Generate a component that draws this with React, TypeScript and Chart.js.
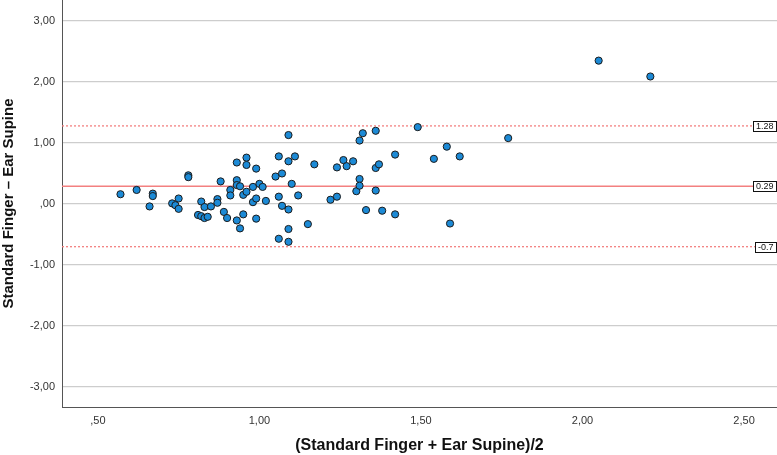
import React, { useEffect, useRef } from "react";
import { Chart, registerables } from "chart.js";

Chart.register(...registerables);

// Bland-Altman data: average of the two methods (x) and difference (y)
const averages: number[] = [
  0.57, 0.62, 0.67, 0.67, 0.66, 0.73, 0.74, 0.75, 0.75, 0.78,
  0.78, 0.82, 0.81, 0.82, 0.83, 0.84, 0.83, 0.85, 0.87, 0.87,
  0.88, 0.89, 0.90, 0.91, 0.91, 0.93, 0.96, 0.96, 0.93, 0.93,
  0.94, 0.95, 0.96, 0.95, 0.93, 0.94, 0.98, 0.98, 0.99, 1.00,
  0.99, 0.99, 1.01, 1.02, 1.05, 1.06, 1.07, 1.09, 1.09, 1.11,
  1.10, 1.06, 1.07, 1.09, 1.12, 1.06, 1.09, 1.09, 1.15, 1.17,
  1.22, 1.24, 1.24, 1.26, 1.27, 1.29, 1.31, 1.30, 1.31, 1.31,
  1.32, 1.33, 1.36, 1.36, 1.37, 1.36, 1.38, 1.42, 1.42, 2.05,
  2.21, 1.49, 1.77, 1.54, 1.58, 1.62, 1.59,
];
const differences: number[] = [
  0.16, 0.23, 0.17, 0.13, -0.04, 0.01, -0.02, 0.09, -0.08, 0.47,
  0.44, 0.04, -0.18, -0.20, -0.23, -0.21, -0.05, -0.04, 0.08, 0.02,
  0.37, -0.13, -0.23, 0.23, 0.14, 0.68, 0.64, 0.76, 0.39, 0.31,
  0.29, 0.15, 0.20, -0.17, -0.27, -0.40, 0.03, 0.28, 0.58, 0.33,
  -0.24, 0.09, 0.28, 0.05, 0.45, 0.78, 0.50, 1.13, 0.70, 0.78,
  0.33, 0.12, -0.03, -0.09, 0.14, -0.57, -0.41, -0.62, -0.33, 0.65,
  0.07, 0.12, 0.60, 0.72, 0.62, 0.70, 0.41, 0.21, 0.30, 1.04,
  1.16, -0.10, 1.20, 0.59, 0.65, 0.22, -0.11, 0.81, -0.17, 2.35,
  2.09, 1.26, 1.08, 0.74, 0.94, 0.78, -0.32,
];

const limitValues: number[] = [1.28, 0.29, -0.7];
const limitLabels: string[] = ["1.28", "0.29", "-0.7"];

const xTickValues: number[] = [0.5, 1.0, 1.5, 2.0, 2.5];
const xTickLabels: string[] = [",50", "1,00", "1,50", "2,00", "2,50"];
const yTickValues: number[] = [-3, -2, -1, 0, 1, 2, 3];
const yTickLabels: string[] = ["-3,00", "-2,00", "-1,00", ",00", "1,00", "2,00", "3,00"];

const xMin = 0.389;
const xMax = 2.602;
const yMin = -3.328;
const yMax = 3.344;

const xTitle = "(Standard Finger + Ear Supine)/2";
const yTitle = "Standard Finger \u2013 Ear Supine";

const LINE_COLOR = "rgb(243,128,128)";
const TITLE_FONT = "'Liberation Sans', Arial, sans-serif";
const TICK_FONT = "'Liberation Sans', Arial, sans-serif";

const limitBoxes = {
  id: "limitBoxes",
  afterDatasetsDraw(chart: any) {
    const { ctx, chartArea, scales } = chart;
    const y = scales.y;
    ctx.save();
    ctx.font = "9px " + TICK_FONT;
    limitValues.forEach((v, i) => {
      const label = limitLabels[i];
      const py = Math.round(y.getPixelForValue(v));
      const w = Math.round(ctx.measureText(label).width + 5);
      const h = 10;
      const x = Math.round(chartArea.right - w - 1);
      ctx.fillStyle = "#ffffff";
      ctx.fillRect(x, py - h / 2, w, h);
      ctx.strokeStyle = "#111111";
      ctx.lineWidth = 1;
      ctx.strokeRect(x + 0.5, py - h / 2 + 0.5, w, h);
      ctx.fillStyle = "#111111";
      ctx.textBaseline = "middle";
      ctx.textAlign = "left";
      ctx.fillText(label, x + 3, py + 1);
    });
    ctx.restore();
  },
};

const zeroPad = (scale: any) => {
  scale.paddingTop = 0;
  scale.paddingBottom = 0;
  scale.paddingLeft = 0;
  scale.paddingRight = 0;
};

export default function App() {
  const canvasRef = useRef<HTMLCanvasElement | null>(null);

  useEffect(() => {
    document.body.style.margin = "0";
    const canvas = canvasRef.current;
    if (!canvas) return;

    const points = averages.map((a, i) => ({ x: a, y: differences[i] }));
    const limitLine = (v: number) => [
      { x: xMin, y: v },
      { x: xMax, y: v },
    ];

    const chart = new Chart(canvas, {
      type: "scatter",
      data: {
        datasets: [
          {
            label: "points",
            data: points,
            backgroundColor: "rgb(28,138,214)",
            borderColor: "#1b1b1b",
            borderWidth: 1,
            pointRadius: 3.6,
            order: 0,
          },
          {
            type: "line",
            label: "upper",
            data: limitLine(limitValues[0]),
            borderColor: LINE_COLOR,
            borderWidth: 1.3,
            borderDash: [2, 2],
            pointRadius: 0,
            showLine: true,
            order: 1,
          },
          {
            type: "line",
            label: "mean",
            data: limitLine(limitValues[1]),
            borderColor: LINE_COLOR,
            borderWidth: 1.6,
            pointRadius: 0,
            showLine: true,
            order: 1,
          },
          {
            type: "line",
            label: "lower",
            data: limitLine(limitValues[2]),
            borderColor: LINE_COLOR,
            borderWidth: 1.3,
            borderDash: [2, 2],
            pointRadius: 0,
            showLine: true,
            order: 1,
          },
        ] as any,
      },
      options: {
        animation: false,
        responsive: false,
        layout: { padding: 0, autoPadding: false },
        plugins: {
          legend: { display: false },
          tooltip: { enabled: false },
        },
        scales: {
          x: {
            type: "linear",
            min: xMin,
            max: xMax,
            afterBuildTicks: (scale: any) => {
              scale.ticks = xTickValues.map((v) => ({ value: v }));
            },
            afterFit: (scale: any) => {
              scale.height = 48;
              zeroPad(scale);
            },
            grid: { display: false, drawTicks: false },
            border: { display: true, color: "#555555", width: 1 },
            ticks: {
              padding: 7,
              color: "#333333",
              font: { family: TICK_FONT, size: 11 },
              maxRotation: 0,
              callback: (value: any) => {
                const i = xTickValues.findIndex((t) => Math.abs(t - Number(value)) < 1e-6);
                return i >= 0 ? xTickLabels[i] : "";
              },
            },
            title: {
              display: true,
              text: xTitle,
              color: "#111111",
              font: { family: TITLE_FONT, size: 16, weight: "bold" },
              padding: { top: 1, bottom: 0 },
            },
          },
          y: {
            type: "linear",
            min: yMin,
            max: yMax,
            afterBuildTicks: (scale: any) => {
              scale.ticks = yTickValues.map((v) => ({ value: v }));
            },
            afterFit: (scale: any) => {
              scale.width = 62;
              zeroPad(scale);
            },
            grid: {
              display: true,
              drawTicks: false,
              color: "#cdcdcd",
              lineWidth: 1.3,
            },
            border: { display: true, color: "#555555", width: 1 },
            ticks: {
              padding: 7,
              color: "#333333",
              font: { family: TICK_FONT, size: 11 },
              callback: (value: any) => {
                const i = yTickValues.findIndex((t) => Math.abs(t - Number(value)) < 1e-6);
                return i >= 0 ? yTickLabels[i] : "";
              },
            },
            title: {
              display: true,
              text: yTitle,
              color: "#111111",
              font: { family: TITLE_FONT, size: 15, weight: "bold" },
              padding: { top: 0, bottom: 0 },
            },
          },
        },
      } as any,
      plugins: [limitBoxes],
    });

    return () => {
      chart.destroy();
    };
  }, []);

  return (
    <div style={{ position: "absolute", left: 0, top: 0, width: 777, height: 455 }}>
      <canvas ref={canvasRef} width={777} height={455} style={{ display: "block" }} />
    </div>
  );
}
